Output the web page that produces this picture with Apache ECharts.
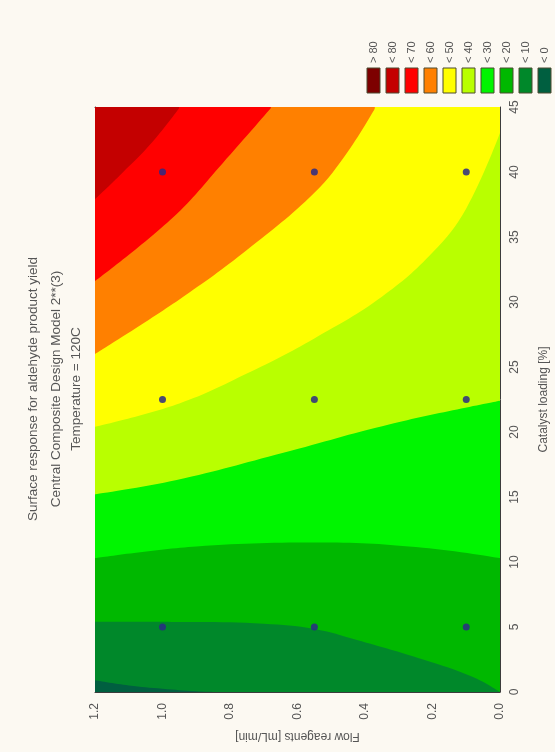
<!DOCTYPE html>
<html>
<head>
<meta charset="utf-8">
<script src="https://cdn.jsdelivr.net/npm/echarts@6/dist/echarts.min.js"></script>
<style>
  html, body { margin: 0; padding: 0; background: #fcf9f2; }
  #chart { width: 555px; height: 752px; }
</style>
</head>
<body>
<div id="chart"></div>
<script>
// Design points of the experiment (flow rate [mL/min] x catalyst loading [%])
const designFlow = [1.0, 0.55, 0.1];
const designCatalyst = [5, 22.5, 40];

// Axis ticks
const flowTicks = [0, 0.2, 0.4, 0.6, 0.8, 1.0, 1.2];
const catalystTicks = [0, 5, 10, 15, 20, 25, 30, 35, 40, 45];

// Yield classes of the fitted surface
const levelLabels = ['> 80', '< 80', '< 70', '< 60', '< 50', '< 40', '< 30', '< 20', '< 10', '< 0'];
const levelColors = ['#7d0000', '#c40000', '#ff0000', '#ff8000', '#ffff00', '#b9ff00', '#00f500', '#00b800', '#00882a', '#005f40'];

// Iso-yield lines, [flow, catalyst] pairs, inside the frame.
// Lines that leave through the top edge start at that edge.
const contourTop = [[0, 45], [1.2, 45]];
const contour70 = [[0.948, 45.0], [1.03, 42.3], [1.12, 39.9], [1.2, 37.9]];
const contour60 = [[0.676, 45.0], [0.821, 40.7], [0.969, 36.5], [1.2, 31.6]];
const contour50 = [[0.368, 45.0], [0.45, 41.6], [0.55, 38.4], [0.75, 34.0], [0.95, 30.2], [1.2, 26.0]];
const contour40 = [[0, 43.0], [0.1, 37.2], [0.2, 33.8], [0.35, 30.4], [0.55, 27.2], [0.75, 24.5], [0.95, 22.2], [1.2, 20.4]];
const contour30 = [[0, 22.4], [0.326, 20.6], [0.642, 18.4], [0.958, 16.3], [1.2, 15.2]];
const contour20 = [[0, 10.3], [0.228, 11.1], [0.524, 11.5], [0.9, 11.2], [1.2, 10.3]];
const contour10 = [[0, 0], [0.08, 1.15], [0.228, 2.5], [0.424, 4.0], [0.55, 4.85], [0.7, 5.25], [0.9, 5.38], [1.2, 5.4]];
const contour0 = [[0.85, 0], [0.9, 0.05], [1.0, 0.25], [1.1, 0.5], [1.2, 0.9]];

// Each band fills everything below its line; later bands paint over earlier ones
const bands = [
  { line: contourTop, color: levelColors[1] },
  { line: contour70, color: levelColors[2] },
  { line: contour60, color: levelColors[3] },
  { line: contour50, color: levelColors[4] },
  { line: contour40, color: levelColors[5] },
  { line: contour30, color: levelColors[6] },
  { line: contour20, color: levelColors[7] },
  { line: contour10, color: levelColors[8] },
  { line: contour0, color: levelColors[9] }
];

const titleLines = [
  'Surface response for aldehyde product yield',
  'Central Composite Design Model 2**(3)',
  'Temperature = 120C'
];

const FONT = '"Liberation Sans", Arial, sans-serif';
const TEXT = '#555555';
const AXIS = '#3c3c3c';
const TOP = catalystTicks[catalystTicks.length - 1];

const chart = echarts.init(document.getElementById('chart'), null, { renderer: 'canvas' });

const designPoints = [];
designCatalyst.forEach(c => designFlow.forEach(f => designPoints.push([f, c])));

function areaSeries(data, color, smooth) {
  return {
    type: 'line',
    data: data,
    smooth: smooth,
    symbol: 'none',
    silent: true,
    clip: true,
    lineStyle: { width: 0, opacity: 0 },
    areaStyle: { color: color, opacity: 1, origin: 'start' },
    z: 2
  };
}

const series = [];
bands.forEach(b => {
  const first = b.line[0];
  // part of the band to the high-flow side of where its line meets the top edge
  if (first[1] >= TOP && first[0] > 0) {
    series.push(areaSeries([[0, TOP], [first[0] + 0.003, TOP]], b.color, false));
  }
  series.push(areaSeries(b.line, b.color, 0.4));
});

series.push({
  type: 'scatter',
  data: designPoints,
  symbolSize: 7,
  itemStyle: { color: '#2a2a86', opacity: 0.85 },
  z: 5
});

// Legend: coloured boxes with rotated class labels
const legendGraphics = [];
levelColors.forEach((col, i) => {
  const cx = 373.5 + 19 * i;
  legendGraphics.push({
    type: 'rect',
    shape: { x: cx - 6.5, y: 68, width: 13, height: 25 },
    style: { fill: col, stroke: '#4d4a30', lineWidth: 1 }
  });
  legendGraphics.push({
    type: 'text',
    x: cx,
    y: 63,
    rotation: Math.PI / 2,
    style: {
      text: levelLabels[i],
      fill: TEXT,
      font: '11px ' + FONT,
      align: 'left',
      verticalAlign: 'middle'
    }
  });
});

const titleX = [33, 56, 76];
const titleGraphics = titleLines.map((t, i) => ({
  type: 'text',
  x: titleX[i],
  y: 389,
  rotation: Math.PI / 2,
  style: {
    text: t,
    fill: TEXT,
    font: '13.5px ' + FONT,
    align: 'center',
    verticalAlign: 'middle'
  }
}));

const option = {
  backgroundColor: '#fcf9f2',
  animation: false,
  grid: { left: 95, right: 55, top: 107, bottom: 60, containLabel: false, outerBoundsMode: 'none' },
  xAxis: [
    {
      type: 'value',
      min: flowTicks[0],
      max: flowTicks[flowTicks.length - 1],
      interval: 0.2,
      inverse: true,
      position: 'bottom',
      name: 'Flow reagents [mL/min]',
      nameLocation: 'middle',
      nameGap: 38,
      nameRotate: 180,
      nameTextStyle: { color: TEXT, fontFamily: FONT, fontSize: 12 },
      axisLine: { show: true, onZero: false, lineStyle: { color: AXIS, width: 1 } },
      axisTick: { show: true, inside: true, length: 3, lineStyle: { color: AXIS } },
      axisLabel: {
        rotate: 90, margin: 11, color: TEXT, fontFamily: FONT, fontSize: 12,
        showMinLabel: true, showMaxLabel: true,
        formatter: v => v.toFixed(1)
      },
      splitLine: { show: false }
    },
    {
      type: 'value',
      min: flowTicks[0],
      max: flowTicks[flowTicks.length - 1],
      interval: 0.2,
      inverse: true,
      position: 'top',
      axisLine: { show: true, onZero: false, lineStyle: { color: AXIS, width: 1 } },
      axisTick: { show: true, inside: true, length: 3, lineStyle: { color: AXIS } },
      axisLabel: { show: false },
      splitLine: { show: false }
    }
  ],
  yAxis: [
    {
      type: 'value',
      min: catalystTicks[0],
      max: TOP,
      interval: 5,
      position: 'right',
      name: 'Catalyst loading [%]',
      nameLocation: 'middle',
      nameGap: 38,
      nameRotate: 90,
      nameTextStyle: { color: TEXT, fontFamily: FONT, fontSize: 12 },
      axisLine: { show: true, onZero: false, lineStyle: { color: AXIS, width: 1 } },
      axisTick: { show: true, inside: true, length: 3, lineStyle: { color: AXIS } },
      axisLabel: {
        rotate: 90, margin: 9, color: TEXT, fontFamily: FONT, fontSize: 12,
        showMinLabel: true, showMaxLabel: true
      },
      splitLine: { show: false }
    },
    {
      type: 'value',
      min: catalystTicks[0],
      max: TOP,
      interval: 5,
      position: 'left',
      axisLine: { show: true, onZero: false, lineStyle: { color: AXIS, width: 1 } },
      axisTick: { show: true, inside: true, length: 3, lineStyle: { color: AXIS } },
      axisLabel: { show: false },
      splitLine: { show: false }
    }
  ],
  series: series,
  graphic: { elements: legendGraphics.concat(titleGraphics) }
};

chart.setOption(option);
</script>
</body>
</html>
